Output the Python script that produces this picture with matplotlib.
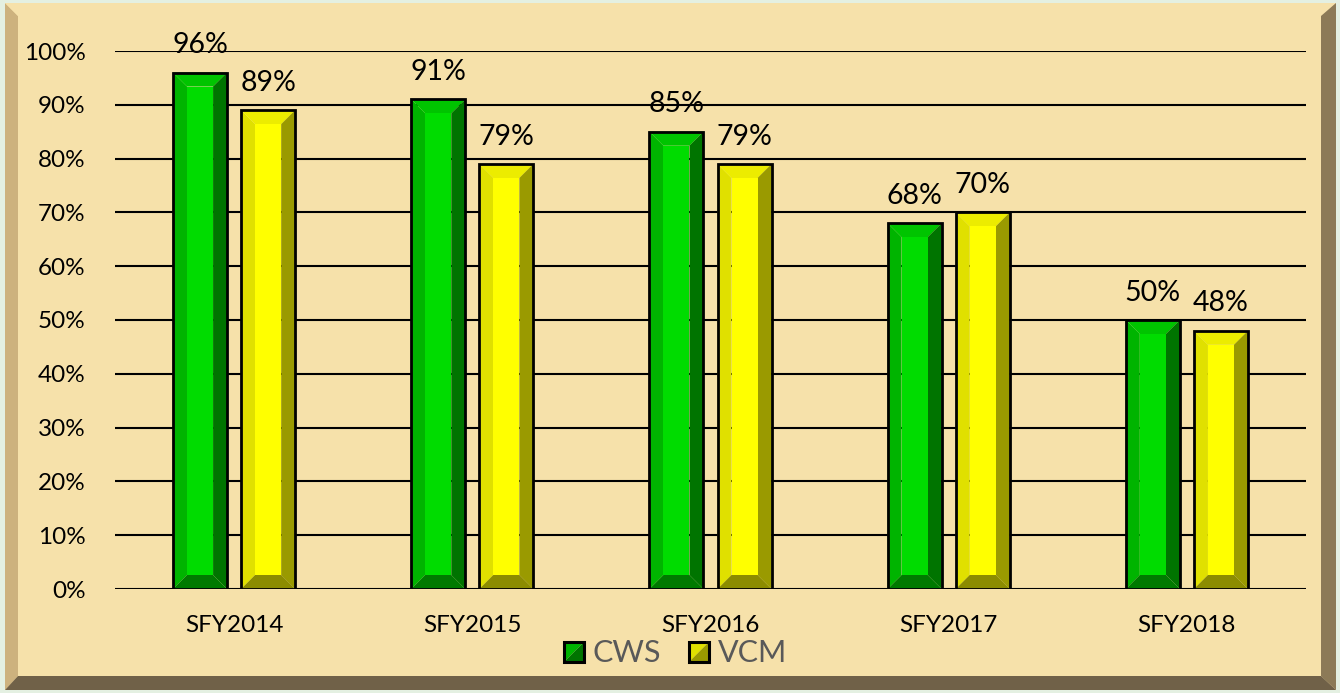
import matplotlib
matplotlib.use("Agg")
import matplotlib.pyplot as plt
from matplotlib.patches import Polygon, Rectangle
import numpy as np

categories = ["SFY2014", "SFY2015", "SFY2016", "SFY2017", "SFY2018"]
cws = [96, 91, 85, 68, 50]
vcm = [89, 79, 79, 70, 48]
series_names = ["CWS", "VCM"]
yticks = [0, 10, 20, 30, 40, 50, 60, 70, 80, 90, 100]
ytick_labels = [f"{v}%" for v in yticks]

W, H = 1340, 693
FONT = "Lato"

green = dict(front="#00dc00", left="#00b400", top="#00c400", right="#007400", bottom="#007a00")
yellow = dict(front="#ffff00", left="#e0e000", top="#ecec00", right="#9a9a00", bottom="#8c8c00")

fig = plt.figure(figsize=(W / 100, H / 100), dpi=100)
fig.patch.set_facecolor("#e4f0e2")


def px(x, y):
    return (x / W, 1 - y / H)


def fpoly(pts, color, z=0):
    p = Polygon([px(*q) for q in pts], closed=True, transform=fig.transFigure,
                facecolor=color, edgecolor="none", zorder=z)
    fig.patches.append(p)


# frame
x0, y0, x1, y1 = 5, 3, 1336, 690
ix0, iy0, ix1, iy1 = 18, 16, 1321, 676
paper = "#f6e1aa"
fpoly([(x0, y0), (x1, y0), (x1, y1), (x0, y1)], paper, z=-5)
fpoly([(x0, y0), (ix0, iy0), (ix0, iy1), (x0, y1)], "#cdb27e", z=-4)
fpoly([(x0, y0), (x1, y0), (ix1, iy0), (ix0, iy0)], paper, z=-4)
fpoly([(x1, y0), (x1, y1), (ix1, iy1), (ix1, iy0)], "#8c7a57", z=-4)
fpoly([(x0, y1), (x1, y1), (ix1, iy1), (ix0, iy1)], "#706148", z=-4)

ax = fig.add_axes([115 / W, 1 - 589 / H, (1306 - 115) / W, (589 - 51) / H])
ax.set_facecolor("none")
ax.set_xlim(-0.5, len(categories) - 0.5)
ax.set_ylim(0, 100)
for s in ax.spines.values():
    s.set_visible(False)
ax.set_yticks(yticks)
ax.set_yticklabels(ytick_labels, fontsize=17.5, fontfamily=FONT, color="black")
ax.set_xticks(range(len(categories)))
ax.set_xticklabels(categories, fontsize=17.5, fontfamily=FONT, color="black")
ax.tick_params(axis="y", length=0, pad=21)
ax.tick_params(axis="x", length=0, pad=19)
ax.grid(axis="y", color="black", linewidth=1.5, zorder=0)
ax.set_axisbelow(True)

width = 0.227
offset = 0.143
# bevel size in data units (~14 px)
bx = 14 / ((1306 - 115) / len(categories))
by = 14 / ((589 - 51) / 100)


def bevel_bar(xc, h, cols):
    l, r = xc - width / 2, xc + width / 2
    b, t = 0, h
    il, ir, ib, it = l + bx, r - bx, b + by, t - by
    ax.add_patch(Polygon([(l, b), (l, t), (il, it), (il, ib)], closed=True, facecolor=cols["left"], edgecolor="none", zorder=3))
    ax.add_patch(Polygon([(l, t), (r, t), (ir, it), (il, it)], closed=True, facecolor=cols["top"], edgecolor="none", zorder=3))
    ax.add_patch(Polygon([(r, t), (r, b), (ir, ib), (ir, it)], closed=True, facecolor=cols["right"], edgecolor="none", zorder=3))
    ax.add_patch(Polygon([(l, b), (r, b), (ir, ib), (il, ib)], closed=True, facecolor=cols["bottom"], edgecolor="none", zorder=3))
    ax.add_patch(Rectangle((il, ib), ir - il, it - ib, facecolor=cols["front"], edgecolor="none", zorder=3))
    ax.add_patch(Rectangle((l, b), r - l, t - b, facecolor="none", edgecolor="black", linewidth=2, zorder=4))
    ax.annotate(f"{h}%", (xc, t), xytext=(0, 14), textcoords="offset points", ha="center", va="baseline",
                fontsize=20.5, fontfamily=FONT, color="black", zorder=5)


xs = np.arange(len(categories))
for i in range(len(categories)):
    bevel_bar(xs[i] - offset, cws[i], green)
    bevel_bar(xs[i] + offset, vcm[i], yellow)


# legend
def legend_square(x, y, s, cols):
    fpoly([(x, y), (x + s, y), (x, y + s)], cols["left"], z=2)
    fpoly([(x + s, y), (x + s, y + s), (x, y + s)], cols["right"], z=2)
    r = Rectangle(px(x, y + s), s / W, s / H, transform=fig.transFigure, facecolor="none",
                  edgecolor="black", linewidth=2.2, zorder=3)
    fig.patches.append(r)


legend_square(564, 642, 20, green)
fig.text(593 / W, 1 - 653 / H, series_names[0], fontsize=22, fontfamily=FONT, color="#595959", va="center", ha="left")
legend_square(689, 642, 20, yellow)
fig.text(718 / W, 1 - 653 / H, series_names[1], fontsize=22, fontfamily=FONT, color="#595959", va="center", ha="left")

fig.savefig("out.png", dpi=100, facecolor=fig.get_facecolor())
